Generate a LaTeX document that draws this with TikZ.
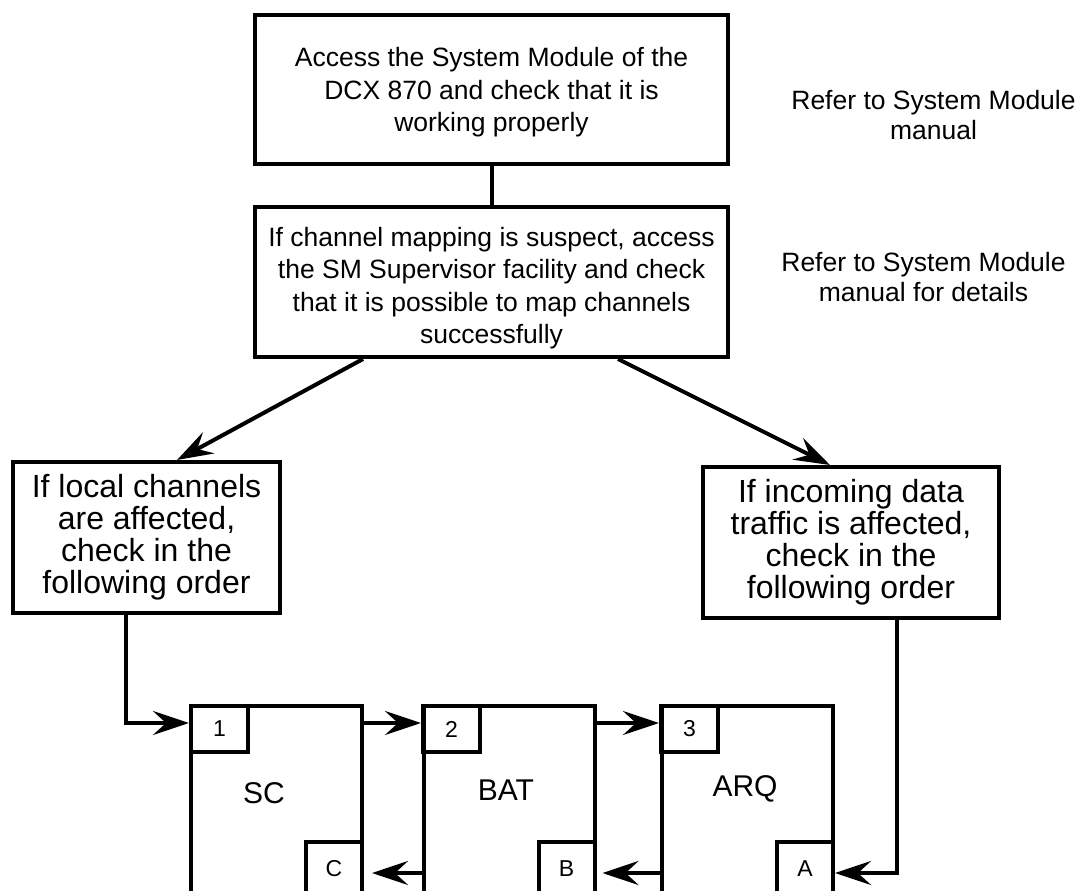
\documentclass[tikz,border=0pt]{standalone}
\usepackage{fontspec}
\setmainfont{Liberation Sans}
\usetikzlibrary{arrows.meta,calc}
\begin{document}
\begin{tikzpicture}[x=1pt,y=-1pt,
  every node/.style={inner sep=0pt},
  box/.style={draw, line width=4pt, align=center},
  link/.style={line width=4pt},
  arr/.style={line width=4pt, -{Stealth[length=36pt,width=24pt,inset=13pt]}},
  bodytext/.style={align=center, font=\fontsize{26.5pt}{32.5pt}\selectfont},
  bigtext/.style={font=\fontsize{32pt}{32pt}\selectfont},
  notetext/.style={align=center, font=\fontsize{26.5pt}{30.5pt}\selectfont},
  blockname/.style={font=\fontsize{30pt}{30pt}\selectfont},
  tagtext/.style={font=\fontsize{23pt}{23pt}\selectfont},
  block/.style={box, minimum width=171pt, minimum height=224pt},
  tagbox/.style={box, tagtext, minimum width=57pt, minimum height=46pt},
  portbox/.style={box, tagtext, minimum width=56pt, minimum height=54pt}]
\clip (0,0) rectangle (1080,891);

% upper steps
\node[box, minimum width=473pt, minimum height=149pt] (top) at (491.5,89.5) {};
\node[bodytext] (toptext) at (491.5,92.5)
  {Access the System Module of the\\DCX 870 and check that it is\\working properly};
\node[box, minimum width=473pt, minimum height=150pt] (mid) at (491.5,282) {};
\node[bodytext] (midtext) at (491.5,288)
  {If channel mapping is suspect, access\\the SM Supervisor facility and check\\that it is possible to map channels\\successfully};
\node[notetext] (note1) at (933.5,115) {Refer to System Module\\manual};
\node[notetext] (note2) at (923.5,277) {Refer to System Module\\manual for details};

% branch boxes
\node[box, bigtext, minimum width=267pt, minimum height=151pt] (lbox) at (146.5,537.5)
  {If local channels\\are affected,\\check in the\\following order};
\node[box, bigtext, minimum width=296pt, minimum height=151pt] (rbox) at (851,542.5)
  {If incoming data\\traffic is affected,\\check in the\\following order};

% card blocks
\node[block] (sc)  at (276.5,818) {};
\node[block] (bat) at (509,818) {};
\node[block] (arq) at (747,818) {};
\node[blockname] (scname)  at (264,793) {SC};
\node[blockname] (batname) at (506,790) {BAT};
\node[blockname] (arqname) at (745,789) {ARQ};
\node[tagbox] (one)   at (219.5,729) {1};
\node[tagbox] (two)   at (451.5,729) {2};
\node[tagbox] (three) at (689.5,729) {3};
\node[portbox] (cc) at (334,869)   {C};
\node[portbox] (bb) at (566.5,869) {B};
\node[portbox] (aa) at (805,869)   {A};

% connectors
\draw[link] (top.south) -- (mid.north);
\draw[arr] ([xshift=-128.5pt]mid.south) -- ([xshift=30.5pt]lbox.north);
\draw[arr] ([xshift=126.5pt]mid.south) -- ([xshift=-21pt]rbox.north);

\coordinate (lin) at ([xshift=-20.5pt]lbox.south);
\coordinate (scout) at ([yshift=-19pt]sc.north east);
\coordinate (batout) at ([yshift=-19pt]bat.north east);
\coordinate (rin) at ([xshift=46pt]rbox.south);

\draw[arr] (lin) |- (scout -| one.west);
\draw[arr] (scout) -- (scout -| two.west);
\draw[arr] (batout) -- (batout -| three.west);
\draw[arr] (rin) |- ([yshift=-4pt]aa.east);
\draw[arr, shorten >=6pt] (arq.west |- 0,873) -- (bb.east |- 0,873);
\draw[arr, shorten >=8pt] (bat.west |- 0,873) -- (cc.east |- 0,873);
\end{tikzpicture}
\end{document}
